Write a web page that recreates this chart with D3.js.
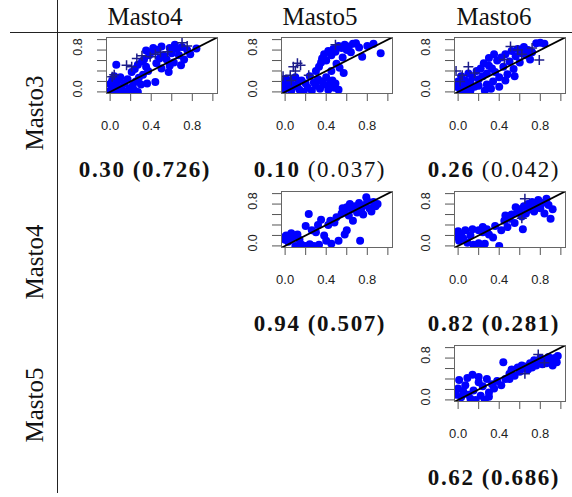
<!DOCTYPE html>
<html>
<head>
<meta charset="utf-8">
<script src="https://cdn.jsdelivr.net/npm/d3@7"></script>
<style>
  body { margin: 0; background: #fff; }
  svg { display: block; }
</style>
</head>
<body>
<svg id="chart" width="572" height="497"></svg>
<script>
const width = 572, height = 497;
const svg = d3.select("#chart");

// labels
const colNames = ["Masto4", "Masto5", "Masto6"];
const rowNames = ["Masto3", "Masto4", "Masto5"];
const tickVals = [0, 0.2, 0.4, 0.6, 0.8, 1.0];
const xTickLabels = ["0.0", "0.4", "0.8"];
const yTickLabels = ["0.0", "0.8"];

// statistic shown under each panel: [row, col, main value, bracket value, bracket bold?]
const stats = [
  [0, 0, "0.30", "(0.726)", true],
  [0, 1, "0.10", "(0.037)", false],
  [0, 2, "0.26", "(0.042)", false],
  [1, 1, "0.94", "(0.507)", true],
  [1, 2, "0.82", "(0.281)", true],
  [2, 2, "0.62", "(0.686)", true]
];

// scatter points (x, y)
const m3m4Dots = [[0.00,0.02],[0.03,0.00],[0.06,0.04],[0.09,0.00],[0.12,0.02],[0.15,0.00],[0.18,0.03],[0.21,0.00],[0.24,0.02],[0.27,0.00],[0.11,0.08],[0.19,0.07],
  [0.00,0.15],[0.02,0.22],[0.05,0.12],[0.07,0.20],[0.04,0.30],[0.06,0.52],[0.10,0.28],[0.14,0.16],[0.17,0.24],[0.22,0.12],[0.25,0.20],[0.28,0.27],[0.30,0.14],
  [0.32,0.33],[0.21,0.38],[0.24,0.44],[0.27,0.52],[0.31,0.58],[0.35,0.48],[0.37,0.40],[0.36,0.16],[0.44,0.19],[0.45,0.55],[0.48,0.64],[0.50,0.45],[0.52,0.70],
  [0.55,0.62],[0.57,0.38],[0.58,0.50],[0.60,0.74],[0.62,0.56],[0.65,0.82],[0.67,0.70],[0.69,0.51],[0.70,0.86],[0.72,0.62],[0.75,0.80],[0.78,0.72],[0.84,0.83],
  [0.40,0.76],[0.42,0.84],[0.46,0.80],[0.50,0.87],[0.58,0.84],[0.35,0.79],[0.38,0.70],[0.63,0.90],[0.33,0.62]];
const m3m4Plus = [[0.02,0.29],[0.04,0.33],[0.16,0.51],[0.21,0.48],[0.26,0.64],[0.31,0.69],[0.39,0.67],[0.44,0.72],[0.49,0.76],[0.56,0.77],[0.70,0.94],[0.75,0.88]];

const m3m5Dots = [[-0.02,0.16],[0.00,0.05],[0.01,0.25],[0.03,0.12],[0.05,0.20],[0.06,0.02],[0.08,0.10],[0.10,0.28],[0.12,0.15],[0.14,0.04],[0.16,0.22],[0.18,0.00],
  [0.20,0.16],[0.22,0.08],[0.24,0.30],[0.26,0.02],[0.28,0.18],[0.30,0.12],[0.32,0.24],[0.34,0.06],[0.36,0.20],[0.38,0.14],[0.40,0.28],[0.42,0.04],[0.44,0.16],
  [0.46,0.22],[0.49,0.16],[0.48,0.08],[0.52,0.04],[0.30,0.40],[0.33,0.48],[0.35,0.56],[0.36,0.64],[0.38,0.72],[0.40,0.60],[0.42,0.78],[0.45,0.70],[0.47,0.82],
  [0.49,0.77],[0.50,0.54],[0.52,0.88],[0.53,0.46],[0.55,0.84],[0.56,0.66],[0.58,0.90],[0.60,0.80],[0.62,0.87],[0.64,0.76],[0.66,0.92],[0.69,0.93],[0.72,0.85],
  [0.75,0.67],[0.80,0.88],[0.86,0.92],[0.93,0.74],[0.57,0.36],[0.45,0.40]];
const m3m5Plus = [[-0.02,0.30],[0.05,0.32],[0.08,0.48],[0.10,0.40],[0.15,0.51],[0.12,0.55],[0.23,0.32],[0.06,0.22],[0.49,0.90]];

const m3m6Dots = [[-0.02,0.10],[0.00,0.20],[0.02,0.05],[0.03,0.30],[0.05,0.14],[0.07,0.22],[0.09,0.08],[0.10,0.35],[0.12,0.18],[0.14,0.28],[0.16,0.10],[0.18,0.40],
  [0.20,0.24],[0.22,0.45],[0.24,0.30],[0.26,0.02],[0.28,0.14],[0.30,0.50],[0.32,0.06],[0.34,0.20],[0.36,0.38],[0.38,0.60],[0.40,0.28],[0.42,0.66],[0.44,0.48],
  [0.46,0.72],[0.48,0.34],[0.50,0.58],[0.52,0.78],[0.54,0.44],[0.56,0.68],[0.58,0.82],[0.60,0.56],[0.62,0.74],[0.64,0.86],[0.66,0.70],[0.68,0.80],[0.70,0.62],
  [0.72,0.76],[0.76,0.93],[0.80,0.94],[0.84,0.92],[0.30,0.65],[0.35,0.72],[0.25,0.55],[0.20,0.12],[0.12,0.02],[0.06,0.00],[0.40,0.10],[0.46,0.22],[0.55,0.30],
  [0.28,0.35],[0.33,0.45]];
const m3m6Plus = [[-0.02,0.40],[0.04,0.32],[0.10,0.48],[0.16,0.36],[0.02,0.20],[0.51,0.87],[0.58,0.80],[0.62,0.72],[0.79,0.61],[0.72,0.84],[0.45,0.62]];

const m4m5Dots = [[-0.02,0.16],[0.00,0.12],[0.01,0.20],[0.03,0.08],[0.05,0.14],[0.10,0.16],[0.12,0.22],[0.14,0.12],[0.23,0.61],[0.20,0.38],[0.26,0.30],[0.30,0.26],
  [0.10,0.00],[0.16,0.02],[0.20,0.00],[0.24,0.03],[0.28,0.00],[0.33,0.02],[0.40,0.10],[0.45,0.04],[0.38,0.20],[0.42,0.40],[0.44,0.48],[0.48,0.45],[0.50,0.55],
  [0.55,0.62],[0.56,0.72],[0.58,0.66],[0.60,0.74],[0.62,0.58],[0.63,0.80],[0.65,0.70],[0.66,0.48],[0.68,0.76],[0.70,0.64],[0.72,0.82],[0.73,0.10],[0.74,0.70],
  [0.76,0.60],[0.78,0.78],[0.79,0.93],[0.80,0.86],[0.82,0.72],[0.84,0.66],[0.86,0.84],[0.88,0.76],[0.90,0.80],[0.60,0.30],[0.58,0.22],[0.52,0.10],[0.35,0.50],
  [0.32,0.40],[0.06,0.24]];
const m4m5Plus = [];

const m4m6Dots = [[-0.02,0.18],[0.00,0.28],[0.01,0.10],[0.03,0.22],[0.05,0.14],[0.07,0.30],[0.09,0.06],[0.12,0.20],[0.15,0.02],[0.18,0.00],[0.20,0.05],[0.23,0.00],
  [0.26,0.04],[0.20,0.30],[0.24,0.36],[0.28,0.32],[0.30,0.22],[0.34,0.16],[0.36,0.38],[0.40,0.00],[0.42,0.30],[0.45,0.48],[0.48,0.36],[0.50,0.52],[0.52,0.60],
  [0.55,0.44],[0.58,0.64],[0.60,0.70],[0.62,0.56],[0.63,0.32],[0.64,0.76],[0.66,0.62],[0.68,0.80],[0.70,0.70],[0.72,0.84],[0.74,0.66],[0.76,0.76],[0.78,0.88],
  [0.80,0.72],[0.82,0.82],[0.84,0.62],[0.86,0.90],[0.88,0.78],[0.90,0.52],[0.92,0.70],[0.56,0.74],[0.46,0.58],[0.24,0.26],[0.14,0.32]];
const m4m6Plus = [[0.65,0.90],[0.62,0.53]];

const m5m6Dots = [[-0.02,0.10],[0.00,0.22],[0.01,0.38],[0.03,0.05],[0.05,0.16],[0.07,0.28],[0.09,0.42],[0.10,0.10],[0.12,0.02],[0.15,0.18],[0.17,0.00],[0.20,0.34],
  [0.22,0.08],[0.24,0.26],[0.26,0.00],[0.28,0.40],[0.30,0.14],[0.33,0.30],[0.35,0.22],[0.38,0.36],[0.42,0.28],[0.44,0.72],[0.46,0.40],[0.50,0.50],[0.52,0.58],
  [0.55,0.46],[0.58,0.62],[0.60,0.54],[0.62,0.66],[0.64,0.60],[0.66,0.64],[0.68,0.58],[0.70,0.70],[0.72,0.62],[0.74,0.76],[0.76,0.66],[0.78,0.72],[0.80,0.80],
  [0.82,0.68],[0.84,0.76],[0.86,0.70],[0.88,0.82],[0.90,0.74],[0.92,0.66],[0.94,0.80],[0.96,0.72],[0.97,0.84],[0.20,0.44],[0.14,0.48],[0.30,0.06],[0.50,0.40]];
const m5m6Plus = [[0.78,0.87],[0.84,0.71],[0.65,0.50]];

const panels = [
  { row: 0, col: 0, dots: m3m4Dots, plus: m3m4Plus },
  { row: 0, col: 1, dots: m3m5Dots, plus: m3m5Plus },
  { row: 0, col: 2, dots: m3m6Dots, plus: m3m6Plus },
  { row: 1, col: 1, dots: m4m5Dots, plus: m4m5Plus },
  { row: 1, col: 2, dots: m4m6Dots, plus: m4m6Plus },
  { row: 2, col: 2, dots: m5m6Dots, plus: m5m6Plus }
];

// layout
const boxLeft = [106, 281, 454];
const boxTop = [37, 191, 345];
const boxW = 112, boxH = 57;
const colCenter = [145, 320, 494];
const rowCenter = [113, 262, 405];
const serif = "'Liberation Serif', serif";
const sans = "'Liberation Sans', Arial, sans-serif";

// table rules
svg.append("line").attr("x1", 10).attr("x2", width).attr("y1", 32.5).attr("y2", 32.5)
  .attr("stroke", "#222").attr("stroke-width", 1);
svg.append("line").attr("x1", 57.5).attr("x2", 57.5).attr("y1", 0).attr("y2", 493)
  .attr("stroke", "#222").attr("stroke-width", 1);

svg.selectAll(".colname").data(colNames).enter().append("text")
  .attr("x", (d, i) => colCenter[i]).attr("y", 25)
  .attr("text-anchor", "middle")
  .attr("font-family", serif).attr("font-size", 25).attr("fill", "#111")
  .text(d => d);

svg.selectAll(".rowname").data(rowNames).enter().append("text")
  .attr("transform", (d, i) => `translate(43,${rowCenter[i]}) rotate(-90)`)
  .attr("text-anchor", "middle")
  .attr("font-family", serif).attr("font-size", 25).attr("fill", "#111")
  .text(d => d);

panels.forEach((p, k) => {
  const x0 = boxLeft[p.col], y0 = boxTop[p.row];
  const x = d3.scaleLinear().domain([-0.04, 1.05]).range([x0, x0 + boxW]);
  const y = d3.scaleLinear().domain([-0.04, 1.05]).range([y0 + boxH, y0]);
  const g = svg.append("g");

  g.append("clipPath").attr("id", "clip" + k)
    .append("rect").attr("x", x0).attr("y", y0).attr("width", boxW).attr("height", boxH);

  const plot = g.append("g").attr("clip-path", `url(#clip${k})`);
  plot.selectAll("circle").data(p.dots).enter().append("circle")
    .attr("cx", d => x(d[0])).attr("cy", d => y(d[1]))
    .attr("r", 4).attr("fill", "#0000ff");

  plot.selectAll(".plus").data(p.plus).enter().append("path")
    .attr("d", d => `M${x(d[0]) - 5},${y(d[1])}h10M${x(d[0])},${y(d[1]) - 5}v10`)
    .attr("stroke", "#1c1c8a").attr("stroke-width", 1.5).attr("fill", "none");

  plot.append("line")
    .attr("x1", x(-0.04)).attr("y1", y(-0.04)).attr("x2", x(1.05)).attr("y2", y(1.05))
    .attr("stroke", "#000").attr("stroke-width", 1.8);

  g.append("rect").attr("x", x0 + 0.5).attr("y", y0 + 0.5).attr("width", boxW - 1).attr("height", boxH - 1)
    .attr("fill", "none").attr("stroke", "#666").attr("stroke-width", 1);

  // axes
  g.selectAll(".xt").data(tickVals).enter().append("line")
    .attr("x1", d => x(d)).attr("x2", d => x(d))
    .attr("y1", y0 + boxH).attr("y2", y0 + boxH + 7)
    .attr("stroke", "#555").attr("stroke-width", 1);
  g.selectAll(".yt").data(tickVals).enter().append("line")
    .attr("x1", x0 - 9).attr("x2", x0)
    .attr("y1", d => y(d)).attr("y2", d => y(d))
    .attr("stroke", "#555").attr("stroke-width", 1);

  g.selectAll(".xl").data(xTickLabels).enter().append("text")
    .attr("x", d => x(+d)).attr("y", y0 + boxH + 36)
    .attr("text-anchor", "middle")
    .attr("font-family", sans).attr("font-size", 13).attr("fill", "#222")
    .text(d => d);
  g.selectAll(".yl").data(yTickLabels).enter().append("text")
    .attr("transform", d => `translate(${x0 - 24},${y(+d) - 3}) rotate(-90)`)
    .attr("text-anchor", "middle")
    .attr("font-family", sans).attr("font-size", 12.5).attr("fill", "#222")
    .text(d => d);
});

// statistics under the panels
stats.forEach(s => {
  const t = svg.append("text")
    .attr("x", colCenter[s[1]]).attr("y", boxTop[s[0]] + boxH + 83)
    .attr("text-anchor", "middle")
    .attr("font-family", serif).attr("font-size", 23).attr("letter-spacing", 1.6).attr("fill", "#111");
  t.append("tspan").attr("font-weight", "bold").text(s[2] + " ");
  t.append("tspan").attr("font-weight", s[4] ? "bold" : "normal").text(s[3]);
});
</script>
</body>
</html>
